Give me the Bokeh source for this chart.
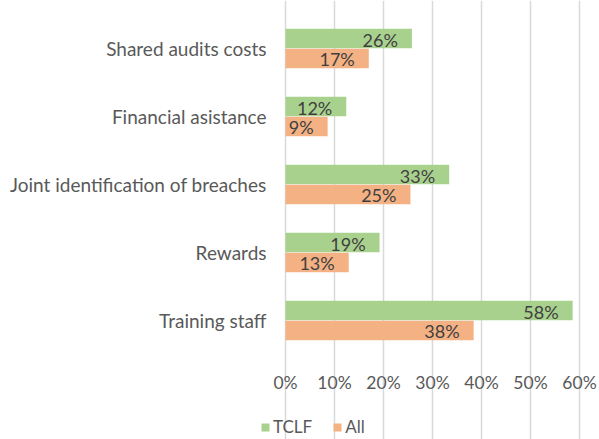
from bokeh.plotting import figure
from bokeh.models import (ColumnDataSource, Range1d, NumeralTickFormatter,
                          FixedTicker, Legend, LegendItem, LinearAxis, Grid)
from bokeh.transform import dodge
from bokeh.core.properties import value
from bokeh.embed import file_html
from bokeh.resources import INLINE

# ---- data (top to bottom as shown) ----
categories = ["Shared audits costs", "Financial asistance",
              "Joint identification of breaches", "Rewards", "Training staff"]
tclf = [0.258, 0.124, 0.334, 0.192, 0.586]
all_share = [0.170, 0.086, 0.255, 0.129, 0.384]
tclf_labels = ["26%", "12%", "33%", "19%", "58%"]
all_labels = ["17%", "9%", "25%", "13%", "38%"]
x_ticks = [0.0, 0.1, 0.2, 0.3, 0.4, 0.5, 0.6]
series_names = ["TCLF", "All"]

FONT = "Lato"
GREEN = "#A9D18E"
ORANGE = "#F4B183"
TXT = "#595959"

W, H = 599, 439
PX_PER_UNIT = 490.0      # pixels per 100%
X0_PX = 285.0            # pixel of 0%
CAT_PX = 68.0            # pixels per category band
BOTTOM_CAT_PX = 320.0    # pixel centre of lowest category

n = len(categories)
ypos = [n - 1 - i for i in range(n)]   # top category highest

src = ColumnDataSource(dict(y=ypos, cat=categories, tclf=tclf, alls=all_share,
                            tl=tclf_labels, al=all_labels))

p = figure(width=W, height=H,
           x_range=Range1d(-X0_PX / PX_PER_UNIT, (W - X0_PX) / PX_PER_UNIT),
           y_range=Range1d(-(H - BOTTOM_CAT_PX) / CAT_PX, BOTTOM_CAT_PX / CAT_PX),
           output_backend="svg", toolbar_location=None,
           min_border=0, min_border_left=0, min_border_right=0,
           min_border_top=0, min_border_bottom=0,
           x_axis_location=None, y_axis_location=None)
p.outline_line_color = None
p.background_fill_color = "white"
p.border_fill_color = "white"
p.center = []   # drop default grids

y_t = dodge("y", 0.147)
y_a = dodge("y", -0.147)

xgrid = Grid(dimension=0, ticker=FixedTicker(ticks=x_ticks),
             bounds=(-0.5, n - 0.5),
             grid_line_color="#D9D9D9", grid_line_width=1.5)
p.add_layout(xgrid)

r1 = p.hbar(y=y_t, left=0, right="tclf", height=0.29, source=src,
            fill_color=GREEN, line_color=None)
r2 = p.hbar(y=y_a, left=0, right="alls", height=0.29, source=src,
            fill_color=ORANGE, line_color=None)

p.text(x="tclf", y=y_t, text="tl", source=src, text_align="right",
       text_baseline="middle", x_offset=-14, y_offset=1,
       text_font=value(FONT), text_font_size="18px", text_color="#404040")
p.text(x="alls", y=y_a, text="al", source=src, text_align="right",
       text_baseline="middle", x_offset=-14, y_offset=1,
       text_font=value(FONT), text_font_size="18px", text_color="#404040")

# axes placed inside the (full-canvas) frame
xaxis = LinearAxis(fixed_location=-0.5,
                   ticker=FixedTicker(ticks=x_ticks),
                   formatter=NumeralTickFormatter(format="0%"))
xaxis.axis_line_color = None
xaxis.major_tick_line_color = None
xaxis.minor_tick_line_color = None
xaxis.major_label_standoff = 11
xaxis.major_label_text_font = FONT
xaxis.major_label_text_font_size = "17.5px"
xaxis.major_label_text_color = TXT
p.add_layout(xaxis, "below")

yaxis = LinearAxis(fixed_location=0.0, ticker=FixedTicker(ticks=ypos))
yaxis.major_label_overrides = {yv: c for yv, c in zip(ypos, categories)}
yaxis.axis_line_color = None
yaxis.major_tick_line_color = None
yaxis.minor_tick_line_color = None
yaxis.major_label_standoff = 13
yaxis.major_label_text_font = FONT
yaxis.major_label_text_font_size = "19px"
yaxis.major_label_text_color = TXT
p.add_layout(yaxis, "left")

legend = Legend(items=[LegendItem(label=series_names[0], renderers=[r1]),
                       LegendItem(label=series_names[1], renderers=[r2])],
                orientation="horizontal", location=(260, 2),
                glyph_width=10, glyph_height=10, label_standoff=3, spacing=20,
                padding=0, margin=0, label_height=18,
                label_text_font=FONT, label_text_font_size="17px",
                label_text_color=TXT, border_line_color=None,
                background_fill_alpha=0)
p.add_layout(legend, "center")

open("out.html", "w").write(file_html(p, INLINE))
